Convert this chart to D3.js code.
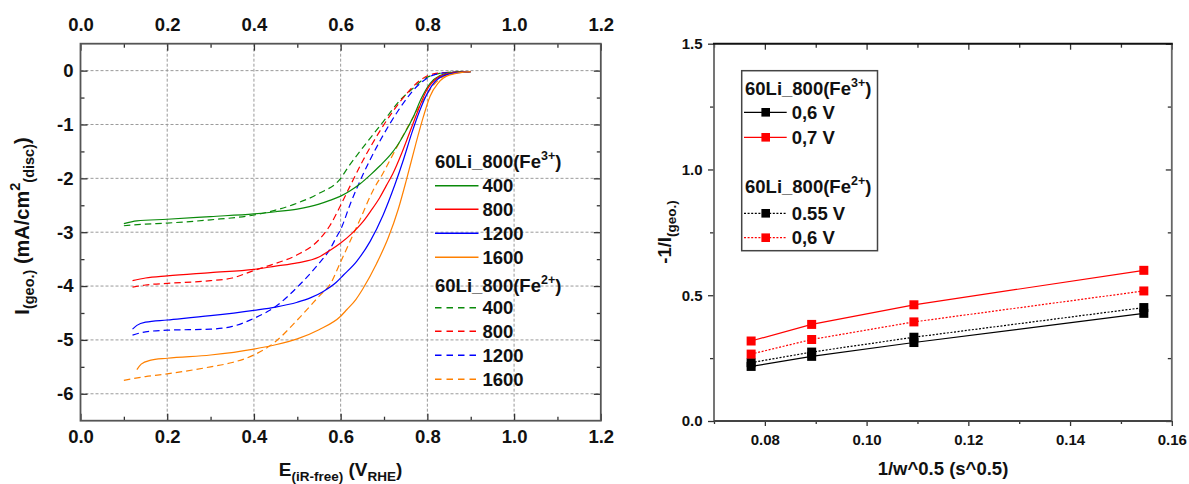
<!DOCTYPE html>
<html><head><meta charset="utf-8">
<script src="https://cdn.jsdelivr.net/npm/d3@7"></script>
<style>
body{margin:0;background:#fff}
svg{display:block}
text{font-family:"Liberation Sans",Arial,sans-serif;font-weight:bold;fill:#111}
</style>
</head><body>
<svg id="c" width="1189" height="484"></svg>
<script>
// ---------------- LEFT CHART DATA: E (V_RHE), I (mA/cm2) ----------------
const fe3_400 = [[0.10,-2.84],[0.13,-2.79],[0.2,-2.76],[0.3,-2.71],[0.4,-2.66],[0.45,-2.62],[0.5,-2.57],[0.55,-2.48],[0.575,-2.41],[0.6,-2.33],[0.622,-2.23],[0.645,-2.10],[0.668,-1.94],[0.69,-1.77],[0.714,-1.57],[0.73,-1.40],[0.745,-1.20],[0.768,-0.85],[0.787,-0.50],[0.806,-0.24],[0.829,-0.09],[0.86,-0.03],[0.9,-0.02]];
const fe3_800 = [[0.12,-3.90],[0.15,-3.85],[0.2,-3.81],[0.3,-3.75],[0.4,-3.69],[0.45,-3.63],[0.5,-3.57],[0.55,-3.46],[0.575,-3.34],[0.6,-3.20],[0.625,-3.03],[0.652,-2.80],[0.67,-2.60],[0.69,-2.36],[0.705,-2.14],[0.72,-1.92],[0.741,-1.53],[0.76,-1.13],[0.779,-0.73],[0.798,-0.37],[0.822,-0.14],[0.852,-0.05],[0.9,-0.02]];
const fe3_1200 = [[0.12,-4.80],[0.13,-4.73],[0.15,-4.67],[0.2,-4.63],[0.3,-4.55],[0.4,-4.45],[0.45,-4.39],[0.5,-4.30],[0.53,-4.22],[0.56,-4.10],[0.59,-3.93],[0.606,-3.80],[0.637,-3.54],[0.668,-3.17],[0.698,-2.68],[0.725,-2.12],[0.745,-1.65],[0.764,-1.16],[0.783,-0.73],[0.802,-0.39],[0.822,-0.17],[0.852,-0.06],[0.9,-0.02]];
const fe3_1600 = [[0.13,-5.55],[0.14,-5.45],[0.16,-5.38],[0.2,-5.34],[0.3,-5.28],[0.4,-5.17],[0.45,-5.09],[0.5,-4.98],[0.55,-4.81],[0.6,-4.56],[0.614,-4.44],[0.635,-4.25],[0.652,-4.04],[0.683,-3.58],[0.71,-3.10],[0.733,-2.57],[0.752,-2.02],[0.772,-1.40],[0.791,-0.85],[0.806,-0.48],[0.825,-0.23],[0.852,-0.08],[0.9,-0.02]];
const fe2_400 = [[0.10,-2.88],[0.15,-2.85],[0.2,-2.83],[0.3,-2.77],[0.4,-2.68],[0.45,-2.59],[0.5,-2.46],[0.55,-2.28],[0.6,-2.0],[0.615,-1.82],[0.652,-1.42],[0.698,-0.95],[0.737,-0.55],[0.768,-0.32],[0.791,-0.16],[0.814,-0.08],[0.85,-0.03],[0.9,-0.02]];
const fe2_800 = [[0.12,-4.02],[0.15,-3.98],[0.2,-3.95],[0.3,-3.90],[0.35,-3.85],[0.4,-3.71],[0.45,-3.58],[0.5,-3.42],[0.55,-3.14],[0.575,-2.88],[0.6,-2.50],[0.622,-2.14],[0.652,-1.66],[0.683,-1.22],[0.722,-0.74],[0.752,-0.43],[0.783,-0.18],[0.814,-0.06],[0.85,-0.03],[0.9,-0.02]];
const fe2_1200 = [[0.12,-4.91],[0.15,-4.85],[0.2,-4.82],[0.3,-4.80],[0.35,-4.75],[0.4,-4.60],[0.45,-4.38],[0.5,-4.02],[0.55,-3.58],[0.575,-3.32],[0.591,-3.08],[0.6,-2.95],[0.622,-2.48],[0.652,-1.92],[0.683,-1.42],[0.714,-0.98],[0.745,-0.60],[0.775,-0.30],[0.806,-0.11],[0.84,-0.04],[0.9,-0.02]];
const fe2_1600 = [[0.10,-5.75],[0.15,-5.68],[0.2,-5.63],[0.3,-5.50],[0.35,-5.42],[0.4,-5.28],[0.45,-5.03],[0.5,-4.63],[0.55,-4.19],[0.577,-3.95],[0.6,-3.55],[0.62,-3.20],[0.645,-2.76],[0.675,-2.22],[0.698,-1.90],[0.729,-1.43],[0.76,-0.97],[0.791,-0.54],[0.814,-0.27],[0.837,-0.11],[0.87,-0.04],[0.9,-0.02]];
const rotationRates = ["400","800","1200","1600"];
const rateColors = ["#0a8a0a","#ff0000","#0000ff","#ff8000"];
const leftXTicks = [0,0.2,0.4,0.6,0.8,1.0,1.2];
const leftXMinor = [0.1,0.3,0.5,0.7,0.9,1.1];
const leftYTicks = [0,-1,-2,-3,-4,-5,-6];
const leftYMinor = [-0.5,-1.5,-2.5,-3.5,-4.5,-5.5];

// ---------------- RIGHT CHART DATA: Koutecky-Levich ----------------
const invSqrtW = [0.0773,0.0892,0.1093,0.1545];
const fe3_06V = [0.217,0.257,0.312,0.428];
const fe3_07V = [0.318,0.384,0.462,0.599];
const fe2_055V = [0.232,0.274,0.333,0.451];
const fe2_06V = [0.266,0.324,0.394,0.517];
const rightXTicks = [0.08,0.10,0.12,0.14,0.16];
const rightXMinor = [0.07,0.09,0.11,0.13,0.15];
const rightYTicks = [0,0.5,1.0,1.5];
const rightYMinor = [0.25,0.75,1.25];

const svg = d3.select("#c");
svg.append("rect").attr("width",1189).attr("height",484).attr("fill","#fff");

function rich(g, x, y, parts, size, anchor, rotate){
  const t = g.append("text").attr("text-anchor",anchor||"start").style("font-size",size+"px");
  if(rotate){ t.attr("transform",`translate(${x},${y}) rotate(${rotate})`);} else { t.attr("x",x).attr("y",y); }
  let cur = 0;
  parts.forEach(p=>{
    const target = p.sub ? size*0.28 : p.sup ? -size*0.42 : 0;
    const ts = t.append("tspan").text(p.t).attr("dy",target-cur);
    if(p.sub||p.sup) ts.style("font-size",(p.fs||size*0.7)+"px");
    cur = target;
  });
  return t;
}

// ================= LEFT =================
const L = {x0:80.5,x1:600.8,y0:43.7,y1:420.7};
const xL = d3.scaleLinear().domain([0,1.2]).range([L.x0,L.x1]);
const yL = d3.scaleLinear().domain([-6.5,0.5]).range([L.y1,L.y0]);
const gL = svg.append("g");

// grid
gL.append("g").selectAll("line").data(leftXTicks.slice(1,-1)).join("line")
  .attr("x1",d=>xL(d)).attr("x2",d=>xL(d)).attr("y1",L.y0).attr("y2",L.y1)
  .attr("stroke","#9a9a9a").attr("stroke-width",1).attr("stroke-dasharray","3,2");
gL.append("g").selectAll("line").data(leftYTicks).join("line")
  .attr("y1",d=>yL(d)).attr("y2",d=>yL(d)).attr("x1",L.x0).attr("x2",L.x1)
  .attr("stroke","#9a9a9a").attr("stroke-width",1).attr("stroke-dasharray","3,2");

const line = d3.line().x(d=>xL(d[0])).y(d=>yL(d[1])).curve(d3.curveMonotoneX);
const fe3Sets = [fe3_400,fe3_800,fe3_1200,fe3_1600];
const fe2Sets = [fe2_400,fe2_800,fe2_1200,fe2_1600];
fe2Sets.forEach((s,i)=>{
  gL.append("path").datum(s).attr("d",line).attr("fill","none")
    .attr("stroke",rateColors[i]).attr("stroke-width",1.2).attr("stroke-dasharray","6.5,4");
});
fe3Sets.forEach((s,i)=>{
  gL.append("path").datum(s).attr("d",line).attr("fill","none")
    .attr("stroke",rateColors[i]).attr("stroke-width",1.2);
});

function styleAxis(g,size){
  g.select(".domain").remove();
  g.selectAll(".tick line").attr("stroke","#333").attr("stroke-width",1.3);
  g.selectAll(".tick text").style("font-size",size+"px").style("font-family","'Liberation Sans',Arial,sans-serif").style("font-weight","bold").attr("fill","#111");
}
const fmt1 = d3.format(".1f");
// major axes
styleAxis(gL.append("g").attr("transform",`translate(0,${L.y1})`).call(d3.axisBottom(xL).tickValues(leftXTicks).tickFormat(fmt1).tickSize(-7).tickPadding(9.5)),18.5);
styleAxis(gL.append("g").attr("transform",`translate(0,${L.y0})`).call(d3.axisTop(xL).tickValues(leftXTicks).tickFormat(fmt1).tickSize(-7).tickPadding(12.5)),18.5);
styleAxis(gL.append("g").attr("transform",`translate(${L.x0},0)`).call(d3.axisLeft(yL).tickValues(leftYTicks).tickFormat(d=>d===0?"0":String(d)).tickSize(-7).tickPadding(7)),18.5);
styleAxis(gL.append("g").attr("transform",`translate(${L.x1},0)`).call(d3.axisRight(yL).tickValues(leftYTicks).tickFormat("").tickSize(-7)),18);
// minor
styleAxis(gL.append("g").attr("transform",`translate(0,${L.y1})`).call(d3.axisBottom(xL).tickValues(leftXMinor).tickFormat("").tickSize(-4)),18);
styleAxis(gL.append("g").attr("transform",`translate(0,${L.y0})`).call(d3.axisTop(xL).tickValues(leftXMinor).tickFormat("").tickSize(-4)),18);
styleAxis(gL.append("g").attr("transform",`translate(${L.x0},0)`).call(d3.axisLeft(yL).tickValues(leftYMinor).tickFormat("").tickSize(-4)),18);
styleAxis(gL.append("g").attr("transform",`translate(${L.x1},0)`).call(d3.axisRight(yL).tickValues(leftYMinor).tickFormat("").tickSize(-4)),18);
// frame
gL.append("rect").attr("x",L.x0).attr("y",L.y0).attr("width",L.x1-L.x0).attr("height",L.y1-L.y0)
  .attr("fill","none").attr("stroke","#555").attr("stroke-width",1.8);

// titles
rich(gL,340.6,476,[{t:"E"},{t:"(iR-free)",sub:true,fs:13.5},{t:" (V"},{t:"RHE",sub:true,fs:13.5},{t:")"}],19,"middle");
rich(gL,28.5,226,[{t:"I"},{t:"(geo.)",sub:true,fs:14.5},{t:" (mA/cm"},{t:"2",sup:true,fs:14.5},{t:"(disc)",sub:true,fs:14.5},{t:")"}],20,"middle",-90);

// legend
const legL = gL.append("g");
rich(legL,435,168,[{t:"60Li_800(Fe"},{t:"3+",sup:true,fs:12.5},{t:")"}],18.5,"start");
rich(legL,435,291.5,[{t:"60Li_800(Fe"},{t:"2+",sup:true,fs:12.5},{t:")"}],18.5,"start");
const legY3 = [185.7,209.3,233.3,257.3];
const legY2 = [307.7,331.3,355.3,379.3];
rotationRates.forEach((r,i)=>{
  legL.append("line").attr("x1",435).attr("x2",478.5).attr("y1",legY3[i]).attr("y2",legY3[i])
    .attr("stroke",rateColors[i]).attr("stroke-width",1.6);
  legL.append("text").attr("x",482.5).attr("y",legY3[i]+6.5).style("font-size","18.5px").text(r);
  legL.append("line").attr("x1",435).attr("x2",478.5).attr("y1",legY2[i]).attr("y2",legY2[i])
    .attr("stroke",rateColors[i]).attr("stroke-width",1.6).attr("stroke-dasharray","6.5,5");
  legL.append("text").attr("x",482.5).attr("y",legY2[i]+6.5).style("font-size","18.5px").text(r);
});

// ================= RIGHT =================
const R = {x0:714,x1:1171.8,y0:43.7,y1:421};
const xR = d3.scaleLinear().domain([0.07,0.16]).range([R.x0,R.x1]);
const yR = d3.scaleLinear().domain([0,1.5]).range([R.y1,R.y0]);
const gR = svg.append("g");

const fmt2 = d3.format(".2f");
styleAxis(gR.append("g").attr("transform",`translate(0,${R.y1})`).call(d3.axisBottom(xR).tickValues(rightXTicks).tickFormat(fmt2).tickSize(5).tickPadding(8.3)),15);
styleAxis(gR.append("g").attr("transform",`translate(0,${R.y1})`).call(d3.axisBottom(xR).tickValues(rightXMinor).tickFormat("").tickSize(3)),15);
styleAxis(gR.append("g").attr("transform",`translate(0,${R.y0})`).call(d3.axisTop(xR).tickValues(rightXTicks).tickFormat("").tickSize(-6)),15);
styleAxis(gR.append("g").attr("transform",`translate(0,${R.y0})`).call(d3.axisTop(xR).tickValues(rightXMinor).tickFormat("").tickSize(-4)),15);
styleAxis(gR.append("g").attr("transform",`translate(${R.x0},0)`).call(d3.axisLeft(yR).tickValues(rightYTicks).tickFormat(fmt1).tickSize(6).tickPadding(5.5)),15);
styleAxis(gR.append("g").attr("transform",`translate(${R.x0},0)`).call(d3.axisLeft(yR).tickValues(rightYMinor).tickFormat("").tickSize(4)),15);
styleAxis(gR.append("g").attr("transform",`translate(${R.x1},0)`).call(d3.axisRight(yR).tickValues(rightYTicks).tickFormat("").tickSize(-6)),15);
styleAxis(gR.append("g").attr("transform",`translate(${R.x1},0)`).call(d3.axisRight(yR).tickValues(rightYMinor).tickFormat("").tickSize(-4)),15);

// frame
gR.append("line").attr("x1",R.x0).attr("x2",R.x0).attr("y1",R.y0).attr("y2",R.y1).attr("stroke","#666").attr("stroke-width",1.8);
gR.append("line").attr("x1",R.x1).attr("x2",R.x1).attr("y1",R.y0).attr("y2",R.y1).attr("stroke","#666").attr("stroke-width",1.8);
gR.append("line").attr("x1",R.x0).attr("x2",R.x1).attr("y1",R.y1).attr("y2",R.y1).attr("stroke","#444").attr("stroke-width",1.8);
gR.append("line").attr("x1",R.x0-1).attr("x2",R.x1+1).attr("y1",R.y0).attr("y2",R.y0).attr("stroke","#111").attr("stroke-width",2);

const klSeries = [
  {vals:fe3_06V,color:"#000",dash:null},
  {vals:fe3_07V,color:"#ff0000",dash:null},
  {vals:fe2_055V,color:"#000",dash:"2,1.6"},
  {vals:fe2_06V,color:"#ff0000",dash:"2,1.6"}
];
const lineR = d3.line().x(d=>xR(d[0])).y(d=>yR(d[1]));
klSeries.forEach(s=>{
  const pts = invSqrtW.map((x,i)=>[x,s.vals[i]]);
  const p = gR.append("path").datum(pts).attr("d",lineR).attr("fill","none").attr("stroke",s.color).attr("stroke-width",1.2);
  if(s.dash) p.attr("stroke-dasharray",s.dash);
});
klSeries.forEach(s=>{
  const pts = invSqrtW.map((x,i)=>[x,s.vals[i]]);
  gR.append("g").selectAll("rect").data(pts).join("rect")
    .attr("x",d=>xR(d[0])-4.5).attr("y",d=>yR(d[1])-4.5).attr("width",9).attr("height",9).attr("fill",s.color);
});

// legend box
const legR = gR.append("g");
legR.append("rect").attr("x",741.7).attr("y",70.7).attr("width",135.8).attr("height",180)
  .attr("fill","#fff").attr("stroke","#444").attr("stroke-width",1.5);
rich(legR,745,94.5,[{t:"60Li_800(Fe"},{t:"3+",sup:true,fs:12.5},{t:")"}],18.5,"start");
rich(legR,745,193,[{t:"60Li_800(Fe"},{t:"2+",sup:true,fs:12.5},{t:")"}],18.5,"start");
const legRLabels = ["0,6 V","0,7 V","0.55 V","0,6 V"];
const legRY = [112.3,137.3,213.3,237.7];
klSeries.forEach((s,i)=>{
  const l = legR.append("line").attr("x1",744).attr("x2",786.7).attr("y1",legRY[i]).attr("y2",legRY[i])
    .attr("stroke",s.color).attr("stroke-width",1.2);
  if(s.dash) l.attr("stroke-dasharray",s.dash);
  legR.append("rect").attr("x",765.7-4.3).attr("y",legRY[i]-4.3).attr("width",8.6).attr("height",8.6).attr("fill",s.color);
  legR.append("text").attr("x",791.7).attr("y",legRY[i]+6.5).style("font-size","18.5px").text(legRLabels[i]);
});

// titles
rich(gR,943,475,[{t:"1/w^0.5 (s^0.5)"}],18.5,"middle");
rich(gR,671,232,[{t:"-1/I"},{t:"(geo.)",sub:true,fs:13.5}],18.5,"middle",-90);
</script>
</body></html>
